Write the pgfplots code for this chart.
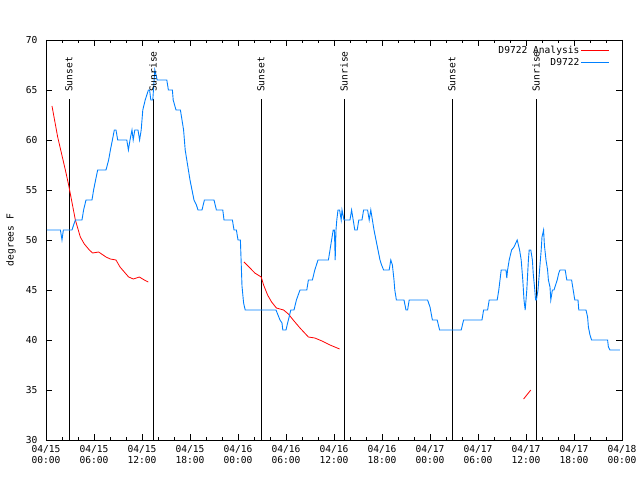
\documentclass[border=0pt]{standalone}
\usepackage{pgfplots}
\pgfplotsset{compat=1.18}
\usepackage{fontspec}
\setmainfont{DejaVu Sans Mono}
\definecolor{obsblue}{HTML}{0080FF}

% hours since 2024-04-15 00:00 UTC, degrees F
\pgfplotstableread{
h T
0.1 51
1.8 51
2.0 50
2.17 51
3.25 51
3.45 51.5
3.67 52
4.5 52
4.7 53
5.0 54
5.75 54
5.95 55
6.2 56
6.46 57
7.5 57
7.83 58
8.05 59
8.3 60
8.54 61
8.75 61
8.96 60
10.1 60
10.3 59
10.5 60
10.75 61
10.9 60
11.1 61
11.5 61
11.7 60
11.9 61
12.1 63
12.4 64
12.8 65
12.95 65
13.1 64
13.35 64
13.6 67
13.9 66
15.1 66
15.3 65
15.8 65
15.9 64
16.25 63
16.8 63
17.0 62
17.2 61
17.3 60
17.4 59
17.6 58
17.8 57
18.0 56
18.25 55
18.5 54
18.8 53.5
19.0 53
19.5 53
19.8 54
21.0 54
21.3 53
22.1 53
22.25 52
23.3 52
23.5 51
23.8 51
24.0 50
24.3 50
24.5 45.4
24.7 43.7
24.9 43
28.75 43
28.9 42.7
29.25 42
29.5 41.7
29.6 41
30.0 41
30.2 41.7
30.3 42
30.6 43
31.0 43
31.3 44
31.75 45
32.6 45
32.8 46
33.3 46
33.6 47
34.0 48
35.3 48
35.5 49
35.7 50
35.9 51
36.05 51
36.15 48
36.25 51
36.35 52
36.5 53
36.7 53
36.9 52
37.0 53
37.25 52
38.0 52
38.2 53
38.4 52
38.6 51
38.9 51
39.1 52
39.5 52
39.7 53
40.2 53
40.4 52
40.6 53
40.8 52
41.0 51
41.25 50
41.5 49
41.75 48
41.95 47.5
42.2 47
42.9 47
43.1 48
43.3 47.5
43.5 46
43.6 45
43.8 44
44.75 44
45.0 43
45.2 43
45.4 44
47.7 44
48.0 43.3
48.3 42
48.9 42
49.2 41
51.9 41
52.2 42
54.5 42
54.7 43
55.2 43
55.4 44
56.4 44
56.6 45
56.9 47
57.5 47
57.6 46.2
57.7 47
57.9 48
58.2 49
58.5 49.3
58.9 50
59.2 49
59.4 48
59.6 46
59.75 44
59.9 43
60.1 45
60.3 48
60.4 49
60.6 49
60.8 48
60.9 46.7
61.1 45
61.2 44
61.3 44
61.5 45
61.7 47
61.9 49
62.0 50.3
62.2 51
62.3 49.5
62.5 48
62.7 47
62.8 46
63.0 45.3
63.1 44
63.3 45
63.5 45
63.7 45.5
63.9 46
64.1 46.7
64.25 47
64.9 47
65.1 46
65.7 46
65.9 45
66.1 44
66.5 44
66.6 43
67.5 43
67.7 42.3
67.8 41.3
68.0 40.5
68.2 40
70.2 40
70.3 39.3
70.5 39
71.75 39
}\obs

\pgfplotstableread{
h T
0.75 63.4
1.46 60.3
2.42 57
2.83 55.5
3.67 52
4.29 50.3
4.79 49.6
5.42 49
5.83 48.7
6.58 48.8
7.5 48.3
8.04 48.1
8.75 48.0
9.25 47.3
9.79 46.8
10.33 46.3
10.92 46.1
11.67 46.3
12.29 46.0
12.79 45.8
13.5 nan
24.75 47.8
25.5 47.2
26.1 46.7
26.9 46.3
27.2 45.5
27.7 44.5
28.2 43.8
28.8 43.2
29.7 43.0
30.3 42.6
30.9 42.0
31.75 41.2
32.8 40.3
33.6 40.2
34.5 39.9
35.5 39.5
36.7 39.1
40 nan
59.7 34.1
60.6 35.0
}\ana

% sunset / sunrise markers
\pgfplotstableread{
h T
2.875 30
2.875 64.1
5 nan
13.375 30
13.375 64.1
20 nan
26.875 30
26.875 64.1
30 nan
37.25 30
37.25 64.1
45 nan
50.75 30
50.75 64.1
55 nan
61.25 30
61.25 64.1
}\sun

\begin{document}
\begin{tikzpicture}[font=\fontsize{9.6}{11}\selectfont]
\path[use as bounding box] (-46pt,-40pt) rectangle (594pt,440pt);
\begin{axis}[
  scale only axis,
  width=576pt, height=400pt,
  xmin=0, xmax=72, ymin=30, ymax=70,
  xtick={0,6,...,72},
  xticklabels={04/15\\00:00,04/15\\06:00,04/15\\12:00,04/15\\18:00,04/16\\00:00,04/16\\06:00,04/16\\12:00,04/16\\18:00,04/17\\00:00,04/17\\06:00,04/17\\12:00,04/17\\18:00,04/18\\00:00},
  minor x tick num=2,
  ytick={30,35,...,70},
  tick align=inside,
  major tick length=6pt, minor tick length=3pt,
  tick style={black, line width=0.8pt},
  axis line style={line width=0.8pt},
  xticklabel style={align=center, yshift=-2pt},
  yticklabel style={xshift=-5pt},
  /pgf/number format/assume math mode=true,
  ylabel={degrees F},
  ylabel style={at={(axis description cs:-0.0608,0.5)}, anchor=center},
  unbounded coords=jump,
  legend style={at={(1,1)}, anchor=north east, xshift=-11pt, yshift=-3pt,
    draw=none, fill=none, inner sep=1pt, row sep=1pt,
    nodes={inner sep=1.5pt}},
  legend cell align=right,
  legend plot pos=right,
  legend image code/.code={\draw[#1] (0,0) -- (28pt,0);},
]
\addplot[black, line width=0.9pt, forget plot] table[x=h, y=T] {\sun};
\addplot[red, line width=0.8pt] table[x=h, y=T] {\ana};
\addplot[obsblue, line width=0.9pt] table[x=h, y=T] {\obs};
\legend{D9722 Analysis, D9722}
\node[rotate=90, anchor=west, inner sep=0pt] at (axis cs:2.875,64.8) {Sunset};
\node[rotate=90, anchor=west, inner sep=0pt] at (axis cs:13.375,64.8) {Sunrise};
\node[rotate=90, anchor=west, inner sep=0pt] at (axis cs:26.875,64.8) {Sunset};
\node[rotate=90, anchor=west, inner sep=0pt] at (axis cs:37.25,64.8) {Sunrise};
\node[rotate=90, anchor=west, inner sep=0pt] at (axis cs:50.75,64.8) {Sunset};
\node[rotate=90, anchor=west, inner sep=0pt] at (axis cs:61.25,64.8) {Sunrise};
\node at (rel axis cs:0.5,1) [yshift=21pt] {Temperature for D9722 on 2024-Apr-15 (time in UTC)};
\end{axis}
\end{tikzpicture}
\end{document}
